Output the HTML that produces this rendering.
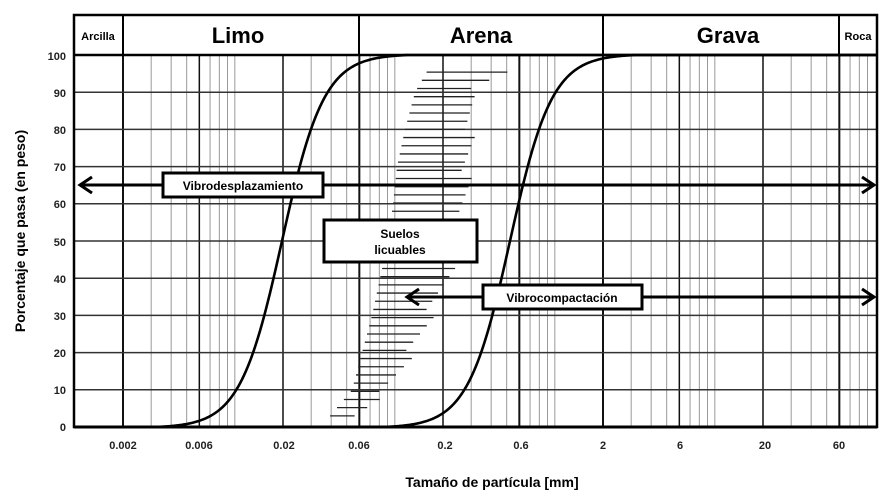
<!DOCTYPE html>
<html><head><meta charset="utf-8"><style>
body{margin:0;background:#fff}
svg{display:block;font-family:"Liberation Sans",Arial,sans-serif;font-weight:bold}
</style></head><body>
<svg id="s" width="893" height="503" viewBox="0 0 893 503" xmlns="http://www.w3.org/2000/svg">
<g id="grid"></g>
<g id="hatch" stroke="#222" stroke-width="1.3"></g>
<path id="c1" fill="none" stroke="#000" stroke-width="2.6"/>
<path id="c2" fill="none" stroke="#000" stroke-width="2.6"/>
<line x1="74" y1="427" x2="877" y2="427" stroke="#000" stroke-width="3"/>
<rect x="74" y="15" width="803" height="412" fill="none" stroke="#000" stroke-width="2.5"/>
<line x1="74" y1="55" x2="877" y2="55" stroke="#000" stroke-width="2.5"/>
<g stroke="#000" stroke-width="2">
<line x1="123" y1="15" x2="123" y2="55"/><line x1="359" y1="15" x2="359" y2="55"/>
<line x1="603" y1="15" x2="603" y2="55"/><line x1="839" y1="15" x2="839" y2="55"/>
</g>
<text x="98" y="40" font-size="11" text-anchor="middle">Arcilla</text>
<text x="238" y="43" font-size="22" text-anchor="middle">Limo</text>
<text x="481" y="43" font-size="22" text-anchor="middle">Arena</text>
<text x="728" y="43" font-size="22" text-anchor="middle">Grava</text>
<text x="858" y="40" font-size="11" text-anchor="middle">Roca</text>
<g font-size="11" text-anchor="end" fill="#222">
<text x="66" y="60">100</text><text x="66" y="97">90</text><text x="66" y="134">80</text>
<text x="66" y="171">70</text><text x="66" y="208">60</text><text x="66" y="246">50</text>
<text x="66" y="283">40</text><text x="66" y="320">30</text><text x="66" y="357">20</text>
<text x="66" y="394">10</text><text x="66" y="431">0</text>
</g>
<g font-size="11" text-anchor="middle" fill="#222">
<text x="123" y="449">0.002</text><text x="199" y="449">0.006</text><text x="284" y="449">0.02</text>
<text x="359" y="449">0.06</text><text x="445" y="449">0.2</text><text x="521" y="449">0.6</text>
<text x="603" y="449">2</text><text x="680" y="449">6</text><text x="765" y="449">20</text>
<text x="839" y="449">60</text>
</g>
<text x="492" y="487" font-size="14" text-anchor="middle">Tamaño de partícula [mm]</text>
<text transform="translate(25,231) rotate(-90)" font-size="14" text-anchor="middle">Porcentaje que pasa (en peso)</text>
<!-- arrows -->
<g stroke="#000" stroke-width="3" fill="none">
<line x1="80" y1="185" x2="874" y2="185"/>
<polyline points="92,177 80,185 92,193"/>
<polyline points="862,177 874,185 862,193"/>
<line x1="407" y1="297" x2="874" y2="297"/>
<polyline points="419,289 407,297 419,305"/>
<polyline points="862,289 874,297 862,305"/>
</g>
<g stroke="#000" stroke-width="3" fill="#fff">
<rect x="163" y="173" width="160" height="24"/>
<rect x="324" y="220" width="153" height="42"/>
<rect x="483" y="285" width="159" height="24"/>
</g>
<text x="243" y="190" font-size="12" text-anchor="middle">Vibrodesplazamiento</text>
<text x="400" y="238" font-size="12" text-anchor="middle">Suelos</text>
<text x="400" y="254" font-size="12" text-anchor="middle">licuables</text>
<text x="562" y="302" font-size="12" text-anchor="middle">Vibrocompactación</text>
</svg>
<script>
var ns="http://www.w3.org/2000/svg";
function X(d){return 123+160*Math.log10(d/0.002);}
function Y(p){return 427-3.72*p;}
var g=document.getElementById('grid');
function ln(p,x1,y1,x2,y2,c,w){var l=document.createElementNS(ns,'line');l.setAttribute('x1',x1);l.setAttribute('y1',y1);l.setAttribute('x2',x2);l.setAttribute('y2',y2);l.setAttribute('stroke',c);l.setAttribute('stroke-width',w);p.appendChild(l);}
for(var e=-3;e<=1;e++)for(var m=1;m<=9;m++){var d=m*Math.pow(10,e);var x=X(d);if(x>76&&x<876)ln(g,x,55,x,427,'#999',1);}
[0.002,0.006,0.02,0.06,0.2,0.6,2,6,20,60].forEach(function(d){var maj=(d==0.002||d==0.06||d==0.6||d==2||d==60);ln(g,X(d),55,X(d),427,'#111',maj?2:1.5);});
for(var p=10;p<100;p+=10)ln(g,74,Y(p),877,Y(p),'#333',1.5);
// hatch
var h=document.getElementById('hatch');
var L=[[2,327,348],[10,352,385],[20,362,410],[30,372,430],[40,380,445],[50,388,460],[60,393,463],[70,397,466],[80,405,470],[90,415,470],[97,430,520]];
function interp(p,i){for(var k=0;k<L.length-1;k++){if(p>=L[k][0]&&p<=L[k+1][0]){var t=(p-L[k][0])/(L[k+1][0]-L[k][0]);return L[k][i]+t*(L[k+1][i]-L[k][i]);}}return L[L.length-1][i];}
for(var p=3;p<=97;p+=2.2){var a=interp(p,1),b=interp(p,2)+((p*7)%13-6);ln(h,a,Y(p),b,Y(p),'#222',1.3);}
// curves
function curve(id,mu,s){var pts=[];for(var x=76;x<=877;x+=2){var z=(x-mu)/s;var pr=100/(1+Math.exp(-z));pts.push(x+','+Y(Math.max(0,Math.min(100,pr*1.005-0.25)).toFixed(2)));}document.getElementById(id).setAttribute('d','M'+pts.join(' L'));}
curve('c1',282,21);
curve('c2',510,21);
</script>
</body></html>
